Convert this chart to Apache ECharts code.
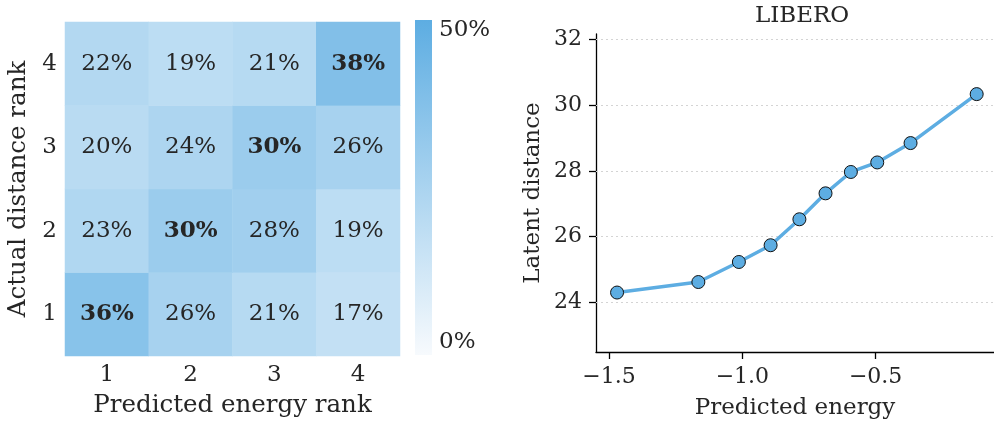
<!DOCTYPE html>
<html>
<head>
<meta charset="utf-8">
<script src="https://cdn.jsdelivr.net/npm/echarts@6/dist/echarts.min.js"></script>
<style>
  html, body { margin: 0; padding: 0; background: #fff; }
  #chart { width: 994px; height: 421px; }
</style>
</head>
<body>
<div id="chart"></div>
<script>
// Rank agreement matrix: rows are actual distance rank (bottom = 1), columns predicted energy rank
const rankLabels = ['1', '2', '3', '4'];
const row1 = [36, 26, 21, 17];
const row2 = [23, 30, 28, 19];
const row3 = [20, 24, 30, 26];
const row4 = [22, 19, 21, 38];
const rows = [row1, row2, row3, row4];

// Binned predicted energy vs mean latent distance
const energy = [-1.47, -1.165, -1.013, -0.894, -0.786, -0.688, -0.593, -0.494, -0.369, -0.121];
const latent = [24.30, 24.62, 25.23, 25.74, 26.53, 27.32, 27.97, 28.26, 28.85, 30.34];

const energyTicks = [-1.5, -1.0, -0.5];
const latentTicks = [24, 26, 28, 30, 32];

const FONT = '"DejaVu Serif", serif';
const INK = '#262626';
const BLUE = '#5DADE2';
const PALE = '#f7fafd';
const FS = 23;     // line panel: axis names, title
const TFS = 22;    // line panel: tick labels
const HFS = 24.5;  // heatmap panel: axis names
const HTFS = 23;   // heatmap panel: tick labels, colorbar labels
const CFS = 23;    // cell annotations

const heatData = [];
rows.forEach((vals, r) => {
  const maxV = Math.max(...vals);
  vals.forEach((v, c) => {
    heatData.push({
      value: [c, r, v],
      label: { fontWeight: v === maxV ? 'bold' : 'normal' }
    });
  });
});

const fmtSigned = v => (v < 0 ? '\u2212' : '') + Math.abs(v).toFixed(1);

const chart = echarts.init(document.getElementById('chart'), null, { renderer: 'canvas' });
chart.setOption({
  animation: false,
  backgroundColor: '#fff',
  textStyle: { fontFamily: FONT },
  title: {
    text: 'LIBERO',
    left: 797, top: 0, textAlign: 'center',
    textStyle: { fontFamily: FONT, fontSize: FS, fontWeight: 'normal', color: INK }
  },
  grid: [
    { left: 65, top: 22, width: 335, height: 334, outerBoundsMode: 'none', containLabel: false },
    { left: 596, top: 34, width: 398, height: 318, outerBoundsMode: 'none', containLabel: false }
  ],
  xAxis: [
    {
      gridIndex: 0, type: 'category', data: rankLabels,
      name: 'Predicted energy rank', nameLocation: 'middle', nameGap: 37,
      nameTextStyle: { fontFamily: FONT, fontSize: HFS, color: INK },
      axisLine: { show: false }, axisTick: { show: false }, splitLine: { show: false },
      axisLabel: { fontFamily: FONT, fontSize: HTFS, color: INK, margin: 8 }
    },
    {
      gridIndex: 1, type: 'value', min: -1.549, max: -0.056,
      name: 'Predicted energy', nameLocation: 'middle', nameGap: 45,
      nameTextStyle: { fontFamily: FONT, fontSize: FS, color: INK },
      axisLine: { show: true, lineStyle: { color: '#000', width: 1.3 } },
      axisTick: { show: true, customValues: energyTicks, length: 7, lineStyle: { color: '#000', width: 1.3 } },
      axisLabel: { customValues: energyTicks, formatter: fmtSigned, fontFamily: FONT, fontSize: TFS, color: INK, margin: 14 },
      splitLine: { show: false }
    }
  ],
  yAxis: [
    {
      gridIndex: 0, type: 'category', data: rankLabels,
      name: 'Actual distance rank', nameLocation: 'middle', nameGap: 34, nameRotate: 90,
      nameTextStyle: { fontFamily: FONT, fontSize: HFS, color: INK },
      axisLine: { show: false }, axisTick: { show: false }, splitLine: { show: false },
      axisLabel: { fontFamily: FONT, fontSize: HTFS, color: INK, margin: 8 }
    },
    {
      gridIndex: 1, type: 'value', min: 22.49, max: 32.17,
      name: 'Latent distance', nameLocation: 'middle', nameGap: 51, nameRotate: 90,
      nameTextStyle: { fontFamily: FONT, fontSize: FS, color: INK },
      axisLine: { show: true, lineStyle: { color: '#000', width: 1.3 } },
      axisTick: { show: true, customValues: latentTicks, length: 7, lineStyle: { color: '#000', width: 1.3 } },
      axisLabel: { customValues: latentTicks, fontFamily: FONT, fontSize: TFS, color: INK, margin: 14 },
      splitLine: { show: false }
    }
  ],
  visualMap: {
    show: false, type: 'continuous', seriesIndex: 0,
    min: 0, max: 50,
    inRange: { color: [PALE, BLUE] }
  },
  series: [
    {
      type: 'heatmap', xAxisIndex: 0, yAxisIndex: 0,
      data: heatData,
      label: {
        show: true, formatter: p => p.value[2] + '%',
        fontFamily: FONT, fontSize: CFS, color: INK
      },
      itemStyle: { borderWidth: 0 },
      emphasis: { disabled: true }
    },
    {
      type: 'line', xAxisIndex: 1, yAxisIndex: 1,
      data: energy.map((x, i) => [x, latent[i]]),
      lineStyle: { color: BLUE, width: 3.5 },
      symbol: 'circle', symbolSize: 13,
      itemStyle: { color: BLUE, borderColor: '#111', borderWidth: 1 },
      z: 5,
      markLine: {
        silent: true, symbol: 'none', z: 1,
        label: { show: false },
        lineStyle: { color: '#d4d4d4', type: [2, 3], width: 1 },
        data: latentTicks.map(v => ({ yAxis: v }))
      }
    }
  ],
  graphic: [
    {
      type: 'rect', left: 415, top: 20, z: 10,
      shape: { width: 17, height: 335 },
      style: {
        fill: new echarts.graphic.LinearGradient(0, 0, 0, 1, [
          { offset: 0, color: BLUE },
          { offset: 1, color: PALE }
        ])
      }
    },
    {
      type: 'text', left: 439, top: 19, z: 10,
      style: { text: '50%', font: HTFS + 'px ' + FONT, fill: INK }
    },
    {
      type: 'text', left: 439, top: 331, z: 10,
      style: { text: '0%', font: HTFS + 'px ' + FONT, fill: INK }
    }
  ]
});
</script>
</body>
</html>
